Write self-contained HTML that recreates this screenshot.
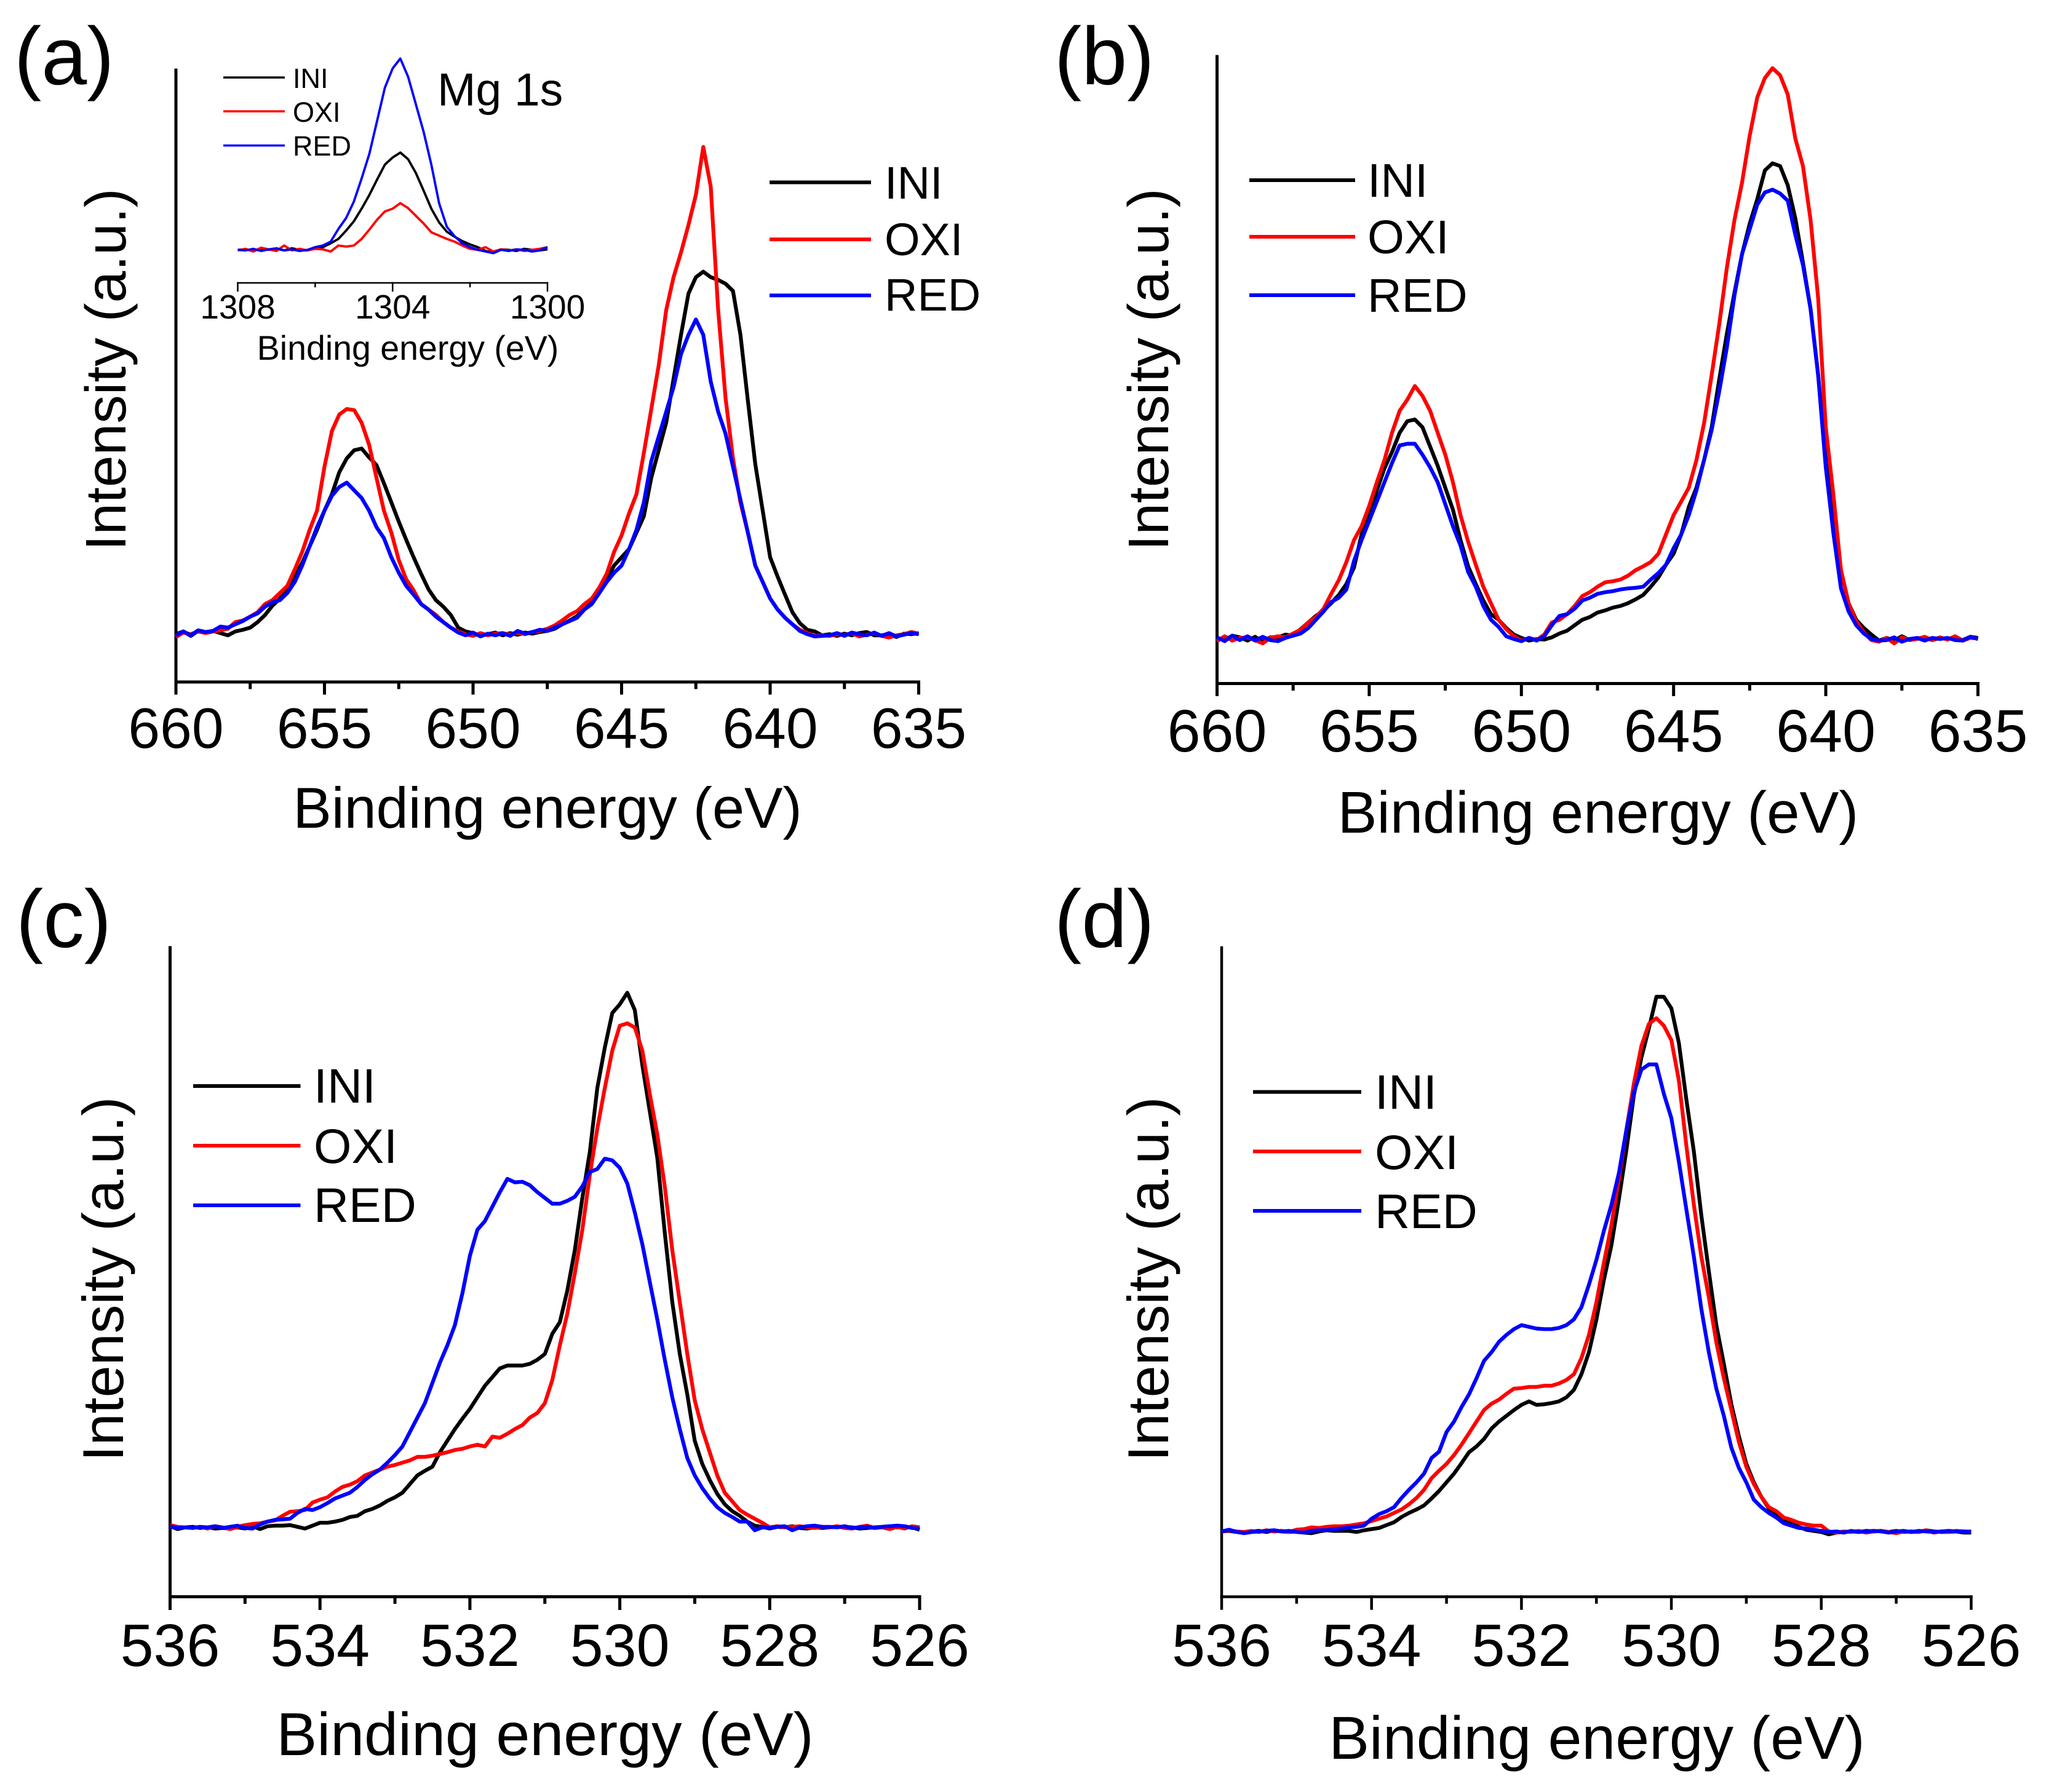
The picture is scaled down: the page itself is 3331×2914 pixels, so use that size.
<!DOCTYPE html>
<html lang="en">
<head>
<meta charset="utf-8">
<title>XPS spectra</title>
<style>
html,body{margin:0;padding:0;background:#fff}
svg{display:block}
text{font-family:"Liberation Sans",Arial,sans-serif;fill:#000}
</style>
</head>
<body>
<svg id="figure" xmlns="http://www.w3.org/2000/svg" width="3331" height="2914" viewBox="0 0 3331 2914">
<rect width="3331" height="2914" fill="#fff"/>

<text x="23" y="137" font-size="133">(a)</text>
<text x="1714" y="137" font-size="133">(b)</text>
<text x="26" y="1540" font-size="133">(c)</text>
<text x="1714" y="1540" font-size="133">(d)</text>

<text x="890" y="1346" font-size="93.6" text-anchor="middle">Binding energy (eV)</text>
<text x="2598" y="1354" font-size="95.8" text-anchor="middle">Binding energy (eV)</text>
<text x="886" y="2854" font-size="98.8" text-anchor="middle">Binding energy (eV)</text>
<text x="2596" y="2860" font-size="98.6" text-anchor="middle">Binding energy (eV)</text>

<text transform="translate(204 601) rotate(-90)" font-size="93" text-anchor="middle">Intensity (a.u.)</text>
<text transform="translate(1899 601) rotate(-90)" font-size="93" text-anchor="middle">Intensity (a.u.)</text>
<text transform="translate(200 2080) rotate(-90)" font-size="93.6" text-anchor="middle">Intensity (a.u.)</text>
<text transform="translate(1899 2080) rotate(-90)" font-size="93.6" text-anchor="middle">Intensity (a.u.)</text>

<text x="1438" y="323" font-size="74">INI</text>
<text x="1438" y="415" font-size="74">OXI</text>
<text x="1438" y="505" font-size="74">RED</text>
<text x="2223" y="320" font-size="77">INI</text>
<text x="2223" y="412" font-size="77">OXI</text>
<text x="2223" y="507" font-size="77">RED</text>
<text x="510" y="1793" font-size="79">INI</text>
<text x="510" y="1891" font-size="79">OXI</text>
<text x="510" y="1987" font-size="79">RED</text>
<text x="2235" y="1803" font-size="79">INI</text>
<text x="2235" y="1901" font-size="79">OXI</text>
<text x="2235" y="1997" font-size="79">RED</text>

<line x1="1251" x2="1416" y1="296.5" y2="296.5" stroke="#000" stroke-width="6"/>
<line x1="1251" x2="1416" y1="389.3" y2="389.3" stroke="#f00" stroke-width="6"/>
<line x1="1251" x2="1416" y1="480.4" y2="480.4" stroke="#00f" stroke-width="6"/>
<line x1="2031" x2="2203" y1="293" y2="293" stroke="#000" stroke-width="6"/>
<line x1="2031" x2="2203" y1="385" y2="385" stroke="#f00" stroke-width="6"/>
<line x1="2031" x2="2203" y1="480" y2="480" stroke="#00f" stroke-width="6"/>
<line x1="314" x2="488.5" y1="1766" y2="1766" stroke="#000" stroke-width="6"/>
<line x1="314" x2="488.5" y1="1863" y2="1863" stroke="#f00" stroke-width="6"/>
<line x1="314" x2="488.5" y1="1960" y2="1960" stroke="#00f" stroke-width="6"/>
<line x1="2037" x2="2213" y1="1775.6" y2="1775.6" stroke="#000" stroke-width="6"/>
<line x1="2037" x2="2213" y1="1872.4" y2="1872.4" stroke="#f00" stroke-width="6"/>
<line x1="2037" x2="2213" y1="1969" y2="1969" stroke="#00f" stroke-width="6"/>

<text x="711" y="171.5" font-size="75">Mg 1s</text>
<text x="476" y="143" font-size="45">INI</text>
<text x="476" y="198" font-size="45">OXI</text>
<text x="476" y="253" font-size="45">RED</text>
<line x1="363" x2="463" y1="126" y2="126" stroke="#000" stroke-width="3.5"/>
<line x1="363" x2="463" y1="181" y2="181" stroke="#f00" stroke-width="3.5"/>
<line x1="363" x2="463" y1="236.6" y2="236.6" stroke="#00f" stroke-width="3.5"/>
<text x="663" y="585" font-size="55.5" text-anchor="middle">Binding energy (eV)</text>

<g id="plots"></g>
</svg>

<script>
// ---------- shared binding-energy grids (eV) ----------
const mgMnEnergy = [
660,659.75,659.5,659.25,
659,658.75,658.5,658.25,
658,657.75,657.5,657.25,
657,656.75,656.5,656.25,
656,655.75,655.5,655.25,
655,654.75,654.5,654.25,
654,653.75,653.5,653.25,
653,652.75,652.5,652.25,
652,651.75,651.5,651.25,
651,650.75,650.5,650.25,
650,649.75,649.5,649.25,
649,648.75,648.5,648.25,
648,647.75,647.5,647.25,
647,646.75,646.5,646.25,
646,645.75,645.5,645.25,
645,644.75,644.5,644.25,
644,643.75,643.5,643.25,
643,642.75,642.5,642.25,
642,641.75,641.5,641.25,
641,640.75,640.5,640.25,
640,639.75,639.5,639.25,
639,638.75,638.5,638.25,
638,637.75,637.5,637.25,
637,636.75,636.5,636.25,
636,635.75,635.5,635.25,
635];

const oxygenEnergy = [
536,535.9,535.8,535.7,535.6,535.5,535.4,535.3,535.2,535.1,
535,534.9,534.8,534.7,534.6,534.5,534.4,534.3,534.2,534.1,
534,533.9,533.8,533.7,533.6,533.5,533.4,533.3,533.2,533.1,
533,532.9,532.8,532.7,532.6,532.5,532.4,532.3,532.2,532.1,
532,531.9,531.8,531.7,531.6,531.5,531.4,531.3,531.2,531.1,
531,530.9,530.8,530.7,530.6,530.5,530.4,530.3,530.2,530.1,
530,529.9,529.8,529.7,529.6,529.5,529.4,529.3,529.2,529.1,
529,528.9,528.8,528.7,528.6,528.5,528.4,528.3,528.2,528.1,
528,527.9,527.8,527.7,527.6,527.5,527.4,527.3,527.2,527.1,
527,526.9,526.8,526.7,526.6,526.5,526.4,526.3,526.2,526.1,
526];

const insetEnergy = [
1308,1307.8,1307.6,1307.4,1307.2,
1307,1306.8,1306.6,1306.4,1306.2,
1306,1305.8,1305.6,1305.4,1305.2,
1305,1304.8,1304.6,1304.4,1304.2,
1304,1303.8,1303.6,1303.4,1303.2,
1303,1302.8,1302.6,1302.4,1302.2,
1302,1301.8,1301.6,1301.4,1301.2,
1301,1300.8,1300.6,1300.4,1300.2,
1300];

// ---------- tick values ----------
const mnMajorTicks = [660,655,650,645,640,635];
const mnMinorTicks = [657.5,652.5,647.5,642.5,637.5];
const oMajorTicks = [536,534,532,530,528,526];
const oMinorTicks = [535,533,531,529,527];
const insetMajorTicks = [1308,1304,1300];
const insetMinorTicks = [1306,1302];

// ---------- panel (a) intensities (a.u.) ----------
const aIni = [
0,5,-3,6,
3,6,2,-2,
5,8,12,22,
35,52,65,80,
105,130,160,190,
225,255,295,320,
335,338,322,308,
275,240,205,172,
140,110,82,62,
50,35,12,5,
2,-3,0,3,
-2,2,-1,3,
1,4,6,10,
18,25,33,45,
58,78,100,125,
140,155,185,215,
285,335,385,465,
545,620,650,660,
650,645,638,625,
545,425,310,225,
140,105,72,40,
20,8,5,-2,
0,-3,1,-2,
2,4,-2,-2,
0,-5,1,0,
2];
const aOxi = [
-5,3,0,5,
2,5,7,10,
22,25,32,40,
55,62,75,88,
118,150,190,225,
305,370,400,410,
408,385,345,285,
225,185,135,100,
80,55,45,35,
22,12,5,0,
-3,2,-2,1,
2,-1,3,0,
4,6,10,16,
25,35,42,55,
65,85,110,150,
180,220,255,330,
410,490,590,650,
695,745,800,887,
815,590,430,320,
240,185,125,95,
65,45,30,18,
8,2,-3,-2,
-3,0,-2,2,
-4,-1,2,-3,
-6,-2,0,4,
1];
const aRed = [
-2,5,-2,7,
4,6,14,12,
18,24,32,38,
50,58,62,75,
95,125,160,195,
225,252,268,276,
262,248,225,195,
175,140,112,88,
72,55,45,32,
22,12,3,-2,
3,-4,1,-2,
2,-3,6,1,
4,8,6,12,
18,24,30,45,
55,75,95,112,
125,155,190,240,
315,360,405,450,
510,545,573,545,
460,405,365,305,
245,185,125,95,
65,45,30,18,
6,0,-4,-3,
-2,2,-3,3,
0,-2,3,-3,
2,-4,-1,2,
0];

// ---------- inset (Mg 1s) intensities (a.u.) ----------
const insetIni = [
0,1,-2,2,0,
2,-1,3,0,-1,
3,5,12,20,35,
52,75,100,128,155,
168,177,165,140,108,
75,50,33,24,16,
10,5,-2,-5,1,
0,-2,2,0,-1,
1];
const insetOxi = [
-1,2,-3,4,1,
-2,8,-1,2,-1,
2,1,-3,8,6,
8,20,37,55,70,
75,85,76,62,48,
32,26,20,15,8,
2,0,5,-3,1,
-1,1,-2,0,2,
5];
const insetRed = [
0,-1,2,-2,1,
3,-1,1,-2,0,
5,8,15,38,58,
88,130,175,235,295,
330,348,315,265,215,
155,85,42,25,12,
5,0,-3,-6,0,
-2,1,0,-3,-1,
5];

// ---------- panel (b) intensities (a.u.) ----------
const bIni = [
2,-2,6,3,
-3,4,-5,3,
3,8,6,18,
30,42,52,65,
80,100,130,190,
225,270,310,340,
375,396,399,385,
350,315,275,235,
180,132,100,70,
45,35,20,8,
2,-3,0,-1,
3,10,15,25,
35,40,48,52,
57,60,65,72,
80,95,112,135,
155,190,240,275,
325,385,472,555,
630,700,755,800,
852,865,860,825,
765,685,600,480,
332,235,125,65,
35,20,8,-3,
2,-3,5,-2,
1,3,-2,2,
0,3,-2,4,
2];
const bOxi = [
-4,5,-3,2,
3,-2,-8,2,
5,3,10,17,
30,40,55,82,
107,140,180,205,
242,285,325,375,
415,435,460,442,
415,375,335,285,
225,177,135,95,
65,35,18,5,
-3,2,-2,8,
30,35,45,60,
78,85,95,103,
105,108,115,125,
132,140,155,190,
225,250,275,325,
392,480,572,675,
762,830,915,985,
1020,1038,1025,990,
910,860,762,620,
385,262,125,65,
32,12,-2,-5,
2,-8,3,-2,
0,4,-2,3,
-1,5,-3,2,
1];
const bRed = [
3,-4,6,-2,
5,-3,4,-2,
-4,2,6,10,
20,35,50,67,
75,90,142,180,
215,250,285,320,
352,355,355,335,
312,285,245,205,
170,122,95,60,
35,22,5,0,
-4,2,-3,5,
25,42,45,55,
70,75,82,85,
87,90,92,93,
95,108,120,135,
165,190,225,270,
325,380,450,530,
625,700,745,790,
812,817,810,797,
735,680,600,480,
312,192,92,50,
25,10,0,-3,
-2,3,-5,0,
2,-3,2,0,
2,-2,-3,4,
0];

// ---------- panel (c) intensities (a.u.) ----------
const cIni = [
2,-3,0,1,-1,0,-2,-1,-2,0,
-2,2,-3,2,3,3,4,1,-2,3,
8,8,10,13,18,20,28,32,38,46,
52,60,75,90,98,105,130,150,170,188,
205,225,245,260,275,280,280,280,283,290,
300,335,355,410,480,570,650,760,830,890,
905,925,895,800,720,640,510,390,300,230,
150,110,82,58,40,28,20,10,3,1,
-2,1,0,2,-1,-2,0,-1,0,1,
1,0,-2,-1,0,1,2,0,1,0,
-4];
const cOxi = [
4,1,0,-1,1,-2,2,0,-3,1,
4,6,7,10,12,20,27,28,30,43,
48,52,62,70,74,80,90,95,100,105,
108,112,116,122,122,124,127,130,134,136,
140,143,140,157,155,162,170,177,190,198,
215,255,315,370,440,515,610,690,760,825,
868,872,865,825,750,680,590,480,390,300,
220,170,130,90,60,45,30,22,15,8,
0,2,0,1,2,0,-1,1,0,2,
-1,-2,1,3,-1,0,-3,1,-2,2,
0];
const cRed = [
2,-1,0,-1,1,0,2,-1,1,3,
-1,-2,5,10,13,14,15,25,32,30,
35,42,50,55,60,70,82,92,100,112,
125,140,165,190,215,250,285,315,350,405,
470,515,530,555,580,603,597,598,592,580,
570,560,560,565,572,590,615,620,638,635,
622,595,545,490,425,360,290,225,170,120,
90,68,50,35,25,18,10,10,-5,0,
-1,1,2,-5,0,2,3,1,1,0,
2,-1,0,1,-1,1,2,3,2,-1,
-2];

// ---------- panel (d) intensities (a.u.) ----------
const dIni = [
0,1,-1,-2,0,1,-1,2,0,-1,
0,-2,-3,0,2,1,1,1,-1,2,
4,6,11,16,25,32,38,45,57,70,
85,100,118,137,147,160,178,190,200,210,
219,225,219,220,222,225,232,245,272,310,
367,435,495,575,660,755,820,870,925,925,
905,845,747,657,547,450,357,290,220,165,
117,85,60,40,30,20,13,8,3,1,
-1,-5,-2,-1,0,-1,1,0,1,-1,
1,-1,0,-1,2,0,-1,-1,0,-2,
-2];
const dOxi = [
0,2,0,-1,1,-1,2,0,1,-1,
3,4,7,6,8,9,9,10,12,14,
18,22,26,32,38,47,58,72,92,105,
117,132,150,170,190,210,221,228,238,247,
248,250,250,252,252,256,262,272,300,340,
397,465,530,610,695,775,840,878,888,875,
850,780,667,565,475,405,327,265,210,155,
112,82,60,42,35,24,20,15,12,10,
10,0,-2,0,-1,1,-2,0,1,-1,
-3,0,-1,-1,2,-2,0,-1,1,0,
0];
const dRed = [
0,3,-1,-3,-1,0,1,2,0,1,
-1,-2,1,2,2,4,5,7,8,10,
22,30,35,42,58,72,85,100,127,138,
172,190,215,237,265,295,310,328,340,350,
357,354,351,350,350,352,357,367,388,427,
470,520,565,620,695,760,799,808,808,757,
715,640,557,475,385,310,247,200,145,110,
85,55,42,32,24,14,10,6,5,3,
1,-1,0,-2,1,-1,0,1,0,-2,
0,1,-1,1,0,-1,0,1,0,0,
-1];

// ---------- drawing ----------
const SVG_NS = 'http://www.w3.org/2000/svg';
const root = document.getElementById('plots');
const SERIES_COLORS = {ini:'#000', oxi:'#f00', red:'#00f'};

function makeScaleX(p){ return e => p.x0 + (p.eMax - e) / (p.eMax - p.eMin) * (p.x1 - p.x0); }
function makeScaleY(p){ return v => p.bottom - (v - p.vMin) / (p.vMax - p.vMin) * (p.bottom - p.top); }

function addLine(x1, y1, x2, y2, w, name){
  const el = document.createElementNS(SVG_NS, 'line');
  el.setAttribute('x1', x1);
  el.setAttribute('y1', y1);
  el.setAttribute('x2', x2);
  el.setAttribute('y2', y2);
  el.setAttribute('stroke', '#000');
  el.setAttribute('stroke-width', w);
  el.setAttribute('stroke-linecap', 'square');
  
  
  root.appendChild(el);
}

function addTickLabel(x, y, size, label, name){
  const el = document.createElementNS(SVG_NS, 'text');
  el.setAttribute('x', x);
  el.setAttribute('y', y);
  el.setAttribute('font-size', size);
  el.setAttribute('text-anchor', 'middle');
  
  
  el.textContent = label;
  root.appendChild(el);
}

function addSeries(energy, values, sx, sy, color, w, name){
  let d = '';
  for (let i = 0; i < energy.length; i++) {
    d += (i ? 'L' : 'M') + sx(energy[i]).toFixed(1) + ' ' + sy(values[i]).toFixed(1);
  }
  const el = document.createElementNS(SVG_NS, 'path');
  el.setAttribute('d', d);
  el.setAttribute('fill', 'none');
  el.setAttribute('stroke', color);
  el.setAttribute('stroke-width', w);
  el.setAttribute('stroke-linejoin', 'round');
  
  
  root.appendChild(el);
}

function drawPanel(p){
  const sx = makeScaleX(p), sy = makeScaleY(p);
  if (p.yAxis) addLine(p.x0, p.top, p.x0, p.bottom, p.axisW, 'y-axis-' + p.id);
  addLine(p.x0, p.bottom, p.x1, p.bottom, p.axisW, 'x-axis-' + p.id);
  p.major.forEach(function(t){
    addLine(sx(t), p.bottom, sx(t), p.bottom + p.majorLen, p.axisW, 'x-major-tick-' + p.id);
    addTickLabel(sx(t), p.labelY, p.labelSize, String(t), 'x-tick-label-' + p.id);
  });
  p.minor.forEach(function(t){
    addLine(sx(t), p.bottom, sx(t), p.bottom + p.minorLen, p.axisW, 'x-minor-tick-' + p.id);
  });
  addSeries(p.energy, p.ini, sx, sy, SERIES_COLORS.ini, p.lineW, 'series-ini-' + p.id);
  addSeries(p.energy, p.oxi, sx, sy, SERIES_COLORS.oxi, p.lineW, 'series-oxi-' + p.id);
  addSeries(p.energy, p.red, sx, sy, SERIES_COLORS.red, p.lineW, 'series-red-' + p.id);
}

drawPanel({id:'a', x0:286, x1:1493.5, eMax:660, eMin:635, top:114, bottom:1109, vMin:-87, vMax:1027, yAxis:true, axisW:5, lineW:6.2, majorLen:18, minorLen:9, labelY:1216, labelSize:93, energy:mgMnEnergy, major:mnMajorTicks, minor:mnMinorTicks, ini:aIni, oxi:aOxi, red:aRed});
drawPanel({id:'b', x0:1978.5, x1:3215.5, eMax:660, eMin:635, top:92, bottom:1111.5, vMin:-81, vMax:1059, yAxis:true, axisW:5, lineW:6.2, majorLen:18, minorLen:9, labelY:1222, labelSize:97, energy:mgMnEnergy, major:mnMajorTicks, minor:mnMinorTicks, ini:bIni, oxi:bOxi, red:bRed});
drawPanel({id:'c', x0:276.5, x1:1495, eMax:536, eMin:526, top:1541, bottom:2596.5, vMin:-120, vMax:1003, yAxis:true, axisW:5, lineW:6.2, majorLen:19, minorLen:9, labelY:2709, labelSize:97, energy:oxygenEnergy, major:oMajorTicks, minor:oMinorTicks, ini:cIni, oxi:cOxi, red:cRed});
drawPanel({id:'d', x0:1986, x1:3204.5, eMax:536, eMin:526, top:1541, bottom:2596.5, vMin:-113, vMax:1010, yAxis:true, axisW:4.5, lineW:6.2, majorLen:19, minorLen:9, labelY:2709, labelSize:97, energy:oxygenEnergy, major:oMajorTicks, minor:oMinorTicks, ini:dIni, oxi:dOxi, red:dRed});
drawPanel({id:'inset', x0:386.5, x1:890, eMax:1308, eMin:1300, top:88, bottom:460, vMin:-60, vMax:356, yAxis:false, axisW:2.5, lineW:3.8, majorLen:13, minorLen:6, labelY:518, labelSize:55, energy:insetEnergy, major:insetMajorTicks, minor:insetMinorTicks, ini:insetIni, oxi:insetOxi, red:insetRed});
</script>
</body>
</html>
